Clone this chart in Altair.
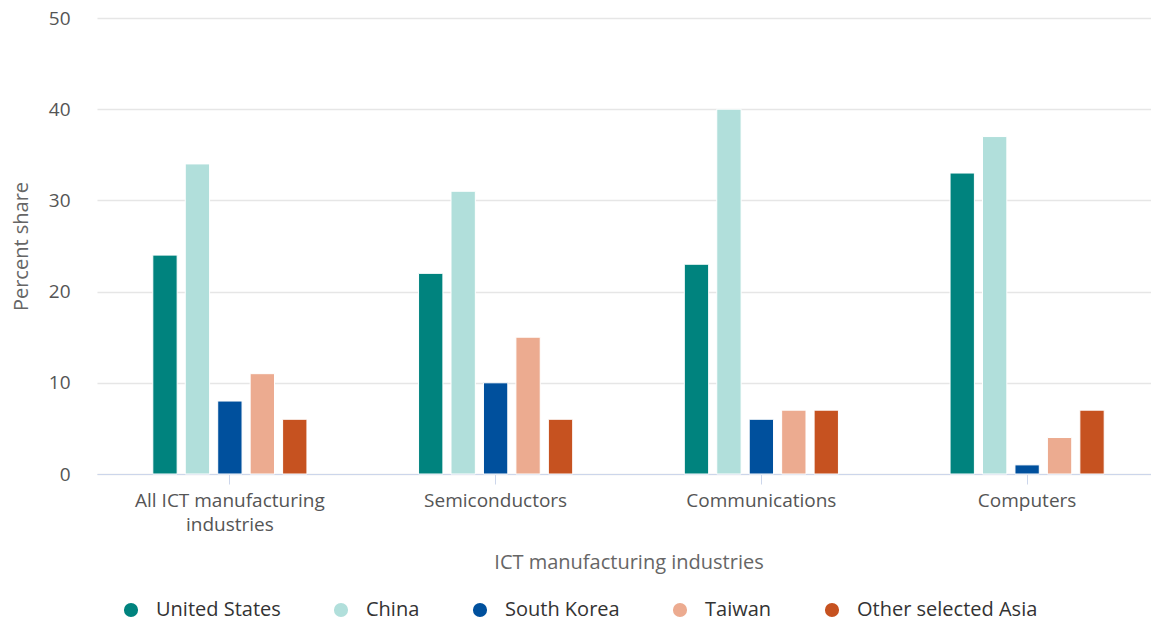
import altair as alt
import pandas as pd

industries = ["All ICT manufacturing industries", "Semiconductors", "Communications", "Computers"]
countries = ["United States", "China", "South Korea", "Taiwan", "Other selected Asia"]
colors = ["#00837e", "#b1dfdb", "#00509d", "#ecab90", "#c65220"]

united_states = [24, 22, 23, 33]
china = [34, 31, 40, 37]
south_korea = [8, 10, 6, 1]
taiwan = [11, 15, 7, 4]
other_asia = [6, 6, 7, 7]

series = [united_states, china, south_korea, taiwan, other_asia]
rows = []
for c, vals in zip(countries, series):
    for ind, v in zip(industries, vals):
        rows.append({"industry": ind, "country": c, "value": v})
df = pd.DataFrame(rows)

FONT = "Open Sans"

chart = alt.Chart(df).mark_bar(stroke="white", strokeWidth=1).encode(
    x=alt.X(
        "industry:N",
        sort=industries,
        scale=alt.Scale(range=[0, 1063], paddingInner=0.42, paddingOuter=0.21),
        axis=alt.Axis(
            title="ICT manufacturing industries",
            labelExpr="datum.value == 'All ICT manufacturing industries' ? ['All ICT manufacturing', 'industries'] : datum.value",
            labelAngle=0,
            labelFontSize=19,
            labelColor="#555555",
            labelFont=FONT,
            labelLineHeight=24,
            labelPadding=7,
            labelLimit=400,
            domainColor="#ccd6eb",
            tickColor="#ccd6eb",
            tickSize=10,
            titleFont=FONT,
            titleFontSize=20,
            titleFontWeight="normal",
            titleColor="#666666",
            titlePadding=18,
            grid=False,
        ),
    ),
    xOffset=alt.XOffset("country:N", sort=countries, scale=alt.Scale(paddingInner=0.25, paddingOuter=0)),
    y=alt.Y(
        "value:Q",
        scale=alt.Scale(domain=[0, 50]),
        axis=alt.Axis(
            title="Percent share",
            values=[0, 10, 20, 30, 40, 50],
            domain=False,
            ticks=False,
            gridColor="#e6e6e6",
            gridWidth=1.5,
            labelFontSize=19,
            labelFont=FONT,
            labelColor="#555555",
            labelPadding=27,
            titleFont=FONT,
            titleFontSize=20,
            titleFontWeight="normal",
            titleColor="#666666",
            titlePadding=17,
        ),
    ),
    color=alt.Color(
        "country:N",
        sort=countries,
        scale=alt.Scale(domain=countries, range=colors),
        legend=alt.Legend(
            title=None,
            orient="none",
            direction="horizontal",
            legendX=24,
            legendY=582,
            symbolType="circle",
            symbolSize=200,
            symbolStrokeWidth=0,
            labelFont=FONT,
            labelFontSize=20,
            labelColor="#333333",
            labelOffset=15,
            labelLimit=400,
            columnPadding=50,
        ),
    ),
).properties(
    width=1054,
    height=456,
    autosize=alt.AutoSizeParams(type="none"),
    padding={"left": 97, "top": 18, "right": 0, "bottom": 148},
).configure_view(stroke=None)

chart.save("out.html", embed_options={"renderer": "svg", "actions": False})
